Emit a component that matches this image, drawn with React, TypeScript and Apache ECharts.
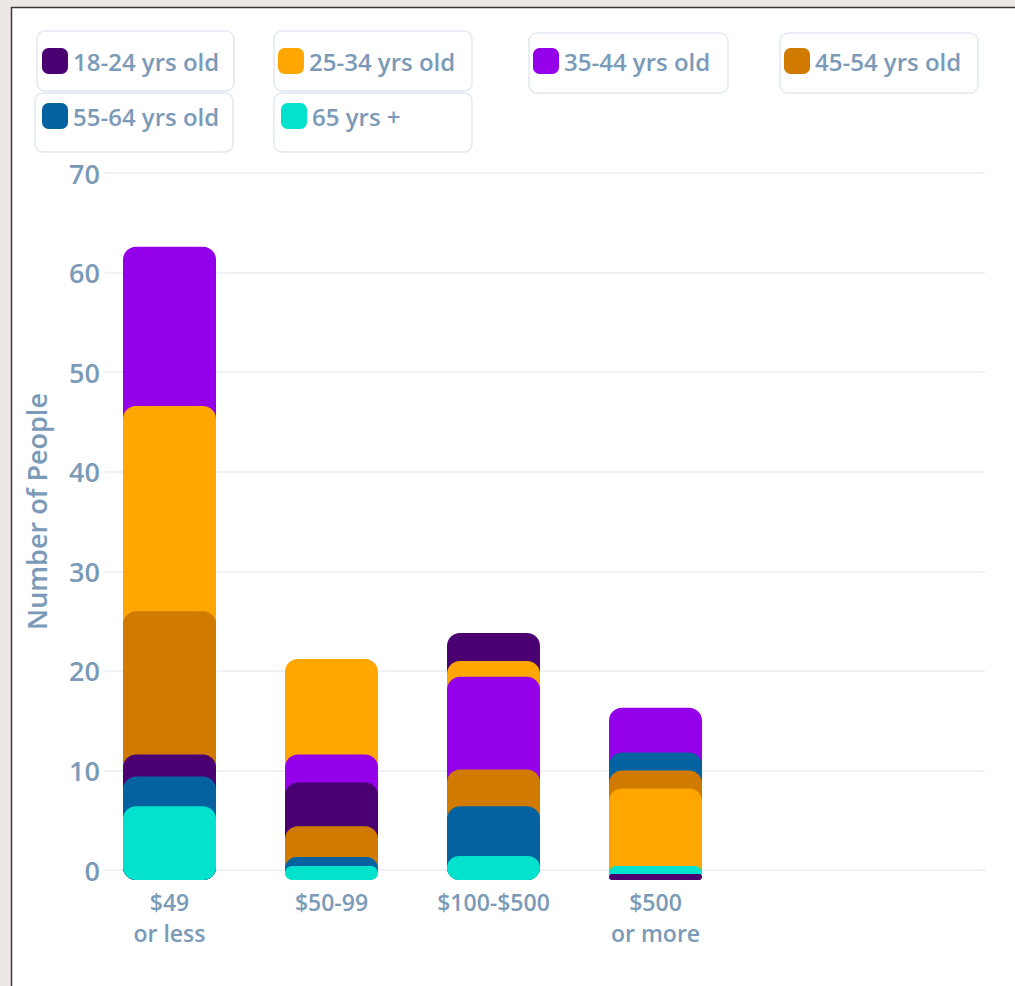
import React, { useEffect, useRef } from "react";
import * as echarts from "echarts";

// Price brackets on the category axis
const categories = ["$49\nor less", "$50-99", "$100-$500", "$500\nor more"];

// Age groups, legend order
const ageGroups = [
  "18-24 yrs old",
  "25-34 yrs old",
  "35-44 yrs old",
  "45-54 yrs old",
  "55-64 yrs old",
  "65 yrs +",
];
const groupColors = ["#4b0071", "#ffa700", "#9400e9", "#d07b00", "#0462a1", "#02e2cc"];

// Number of people per price bracket, one array per age group
const age18to24 = [12.6, 9.8, 24.8, 0.6];
const age25to34 = [47.6, 22.2, 22.0, 9.2];
const age35to44 = [63.6, 12.6, 20.4, 17.3];
const age45to54 = [27.0, 5.4, 11.1, 11.0];
const age55to64 = [10.4, 2.3, 7.4, 12.8];
const age65plus = [7.4, 1.4, 2.4, 1.4];

// Visible value axis
const yMin = 0;
const yMax = 70;
const yStep = 10;

const groupValues = [age18to24, age25to34, age35to44, age45to54, age55to64, age65plus];

const textColor = "#7a9ab8";
const gridColor = "#e9eef5";
const fontFamily = "'Open Sans', Lato, sans-serif";
const fontWeight = 600;

// Bars overlap from the baseline; in each bracket the tallest bar sits at the back
// and shorter ones are drawn in front, so each layer holds the k-th largest value.
function buildLayers() {
  const layers: any[] = [];
  const sortedPerCategory = categories.map((_, c) =>
    groupValues
      .map((vals, g) => ({ g, v: vals[c] }))
      .sort((a, b) => b.v - a.v)
  );
  for (let k = 0; k < ageGroups.length; k++) {
    layers.push({
      type: "bar",
      name: "layer" + k,
      xAxisIndex: 1,
      yAxisIndex: 1,
      barWidth: 93,
      barGap: "-100%",
      z: 2 + k,
      silent: true,
      itemStyle: { borderRadius: [13, 13, 13, 13] },
      data: sortedPerCategory.map((arr) => ({
        value: arr[k].v,
        itemStyle: { color: groupColors[arr[k].g] },
      })),
    });
  }
  return layers;
}

// Legend item boxes: [x, y, w, h]
const legendBoxes = [
  [37, 31, 197, 60],
  [274, 31, 198, 60],
  [529, 33, 199, 60],
  [780, 33, 198, 60],
  [35, 93, 198, 59],
  [274, 93, 198, 59],
];
// Legend icon anchor: [left, top]
const legendAnchors = [
  [42, 48],
  [278, 48],
  [533, 48],
  [784, 48],
  [42, 103],
  [281, 103],
];

export default function App() {
  const ref = useRef<HTMLDivElement>(null);

  useEffect(() => {
    if (!ref.current) return;
    const chart = echarts.init(ref.current, null, { renderer: "svg" });

    const legendSeries = ageGroups.map((name, i) => ({
      type: "bar",
      name,
      xAxisIndex: 1,
      yAxisIndex: 1,
      barWidth: 93,
      barGap: "-100%",
      itemStyle: { color: groupColors[i] },
      data: [],
    }));

    const option: any = {
      animation: false,
      backgroundColor: "#ffffff",
      textStyle: { fontFamily },
      grid: [
        { left: 104, right: 30, top: 173, bottom: 116 },
        { left: 88.5, right: 278.5, top: 173, bottom: 106 },
      ],
      xAxis: [
        {
          gridIndex: 0,
          type: "value",
          min: 0,
          max: 1,
          offset: 10,
          axisLine: { show: true, lineStyle: { color: gridColor, width: 1.5 } },
          axisTick: { show: false },
          axisLabel: { show: false },
          splitLine: { show: false },
        },
        {
          gridIndex: 1,
          type: "category",
          data: categories,
          axisLine: { show: false },
          axisTick: { show: false },
          axisLabel: {
            interval: 0,
            fontSize: 23,
            lineHeight: 31,
            margin: 6.5,
            color: textColor,
            fontFamily,
            fontWeight,
          },
        },
      ],
      yAxis: [
        {
          gridIndex: 0,
          type: "value",
          min: yMin,
          max: yMax,
          interval: yStep,
          name: "Number of People",
          nameLocation: "middle",
          nameRotate: 90,
          nameGap: 54,
          nameTextStyle: {
            fontSize: 27,
            color: textColor,
            fontFamily,
            fontWeight,
            padding: [0, 0, 0, 20],
          },
          axisLine: { show: false },
          axisTick: { show: false },
          axisLabel: { fontSize: 27, color: textColor, margin: 4, fontFamily, fontWeight },
          splitLine: {
            show: true,
            showMinLine: false,
            lineStyle: { color: gridColor, width: 1.5 },
          },
        },
        { gridIndex: 1, type: "value", min: 0, max: 71, show: false },
      ],
      legend: ageGroups.map((name, i) => ({
        data: [name],
        left: legendAnchors[i][0],
        top: legendAnchors[i][1],
        padding: 0,
        itemWidth: 26,
        itemHeight: 26,
        icon: "roundRect",
        selectedMode: false,
        textStyle: { fontSize: 24, color: textColor, fontFamily, fontWeight },
      })),
      graphic: [
        // outer backdrop and frame
        { type: "rect", z: 0, shape: { x: 0, y: 0, width: 1015, height: 7 }, style: { fill: "#ede7e6" } },
        { type: "rect", z: 0, shape: { x: 0, y: 0, width: 11, height: 986 }, style: { fill: "#ede7e6" } },
        { type: "line", z: 1, shape: { x1: 11, y1: 7.5, x2: 1015, y2: 7.5 }, style: { stroke: "#3a3a3a", lineWidth: 1.5 } },
        { type: "line", z: 1, shape: { x1: 11.5, y1: 7, x2: 11.5, y2: 986 }, style: { stroke: "#3a3a3a", lineWidth: 1.5 } },
        // legend item boxes
        ...legendBoxes.map((b) => ({
          type: "rect",
          z: 1,
          shape: { x: b[0], y: b[1], width: b[2], height: b[3], r: 8 },
          style: { fill: "#ffffff", stroke: "#e2e9f1", lineWidth: 1.5 },
        })),
      ],
      series: [...legendSeries, ...buildLayers()],
    };

    chart.setOption(option);
    return () => chart.dispose();
  }, []);

  return (
    <div
      ref={ref}
      style={{ position: "fixed", left: 0, top: 0, width: 1015, height: 986 }}
    />
  );
}
